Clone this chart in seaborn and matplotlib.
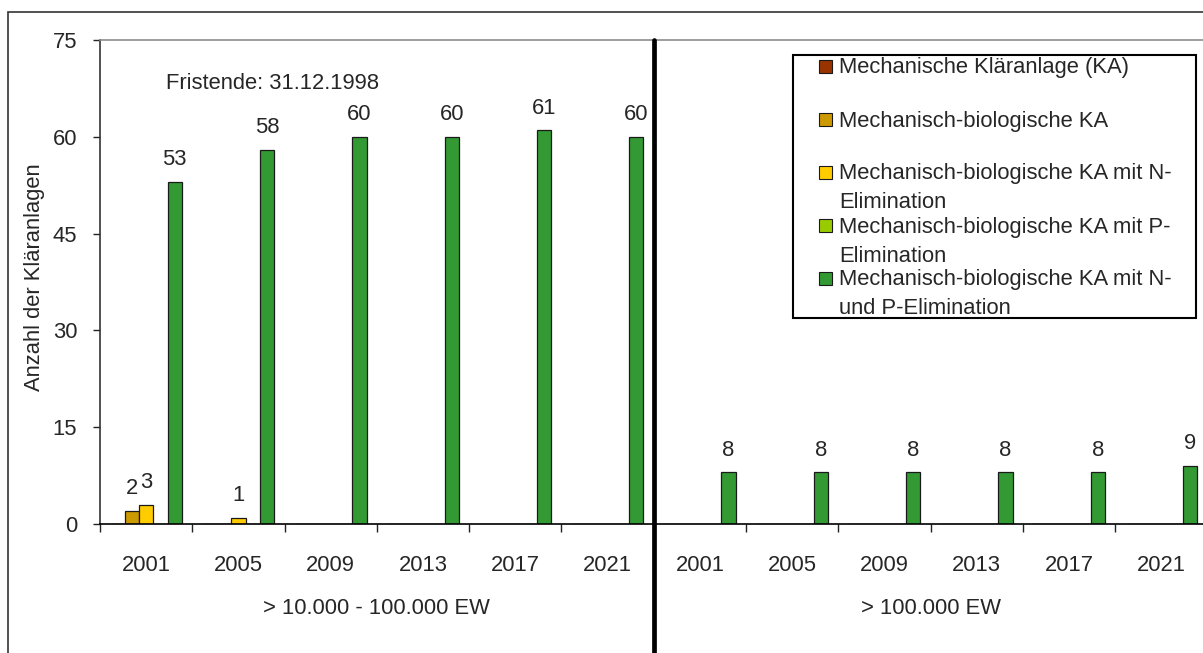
import numpy as np
import pandas as pd
import matplotlib
matplotlib.use("Agg")
import matplotlib.pyplot as plt
import matplotlib.font_manager as fm
from matplotlib.patches import Rectangle
from matplotlib.transforms import blended_transform_factory
import seaborn as sns

# ---------------- data ----------------
years = ["2001", "2005", "2009", "2013", "2017", "2021"]
groups = ["> 10.000 - 100.000 EW", "> 100.000 EW"]
series = [
    "Mechanische Kläranlage (KA)",
    "Mechanisch-biologische KA",
    "Mechanisch-biologische KA mit N-Elimination",
    "Mechanisch-biologische KA mit P-Elimination",
    "Mechanisch-biologische KA mit N- und P-Elimination",
]
legend_labels = [
    "Mechanische Kläranlage (KA)",
    "Mechanisch-biologische KA",
    "Mechanisch-biologische KA mit N-\nElimination",
    "Mechanisch-biologische KA mit P-\nElimination",
    "Mechanisch-biologische KA mit N-\nund P-Elimination",
]
colors = ["#993300", "#CC9900", "#FFCC00", "#99CC00", "#339933"]

mech_ka     = [0, 0, 0, 0, 0, 0,   0, 0, 0, 0, 0, 0]
mech_bio    = [2, 0, 0, 0, 0, 0,   0, 0, 0, 0, 0, 0]
mech_bio_n  = [3, 1, 0, 0, 0, 0,   0, 0, 0, 0, 0, 0]
mech_bio_p  = [0, 0, 0, 0, 0, 0,   0, 0, 0, 0, 0, 0]
mech_bio_np = [53, 58, 60, 60, 61, 60,   8, 8, 8, 8, 8, 9]
annotation = "Fristende: 31.12.1998"
y_title = "Anzahl der Kläranlagen"
y_ticks = [0, 15, 30, 45, 60, 75]

# ---------------- frame ----------------
cat_keys = [f"{g}|{y}" for g in groups for y in years]
tick_labels = [y for g in groups for y in years]
rows = []
for s, vals in zip(series, [mech_ka, mech_bio, mech_bio_n, mech_bio_p, mech_bio_np]):
    for k, v in zip(cat_keys, vals):
        rows.append({"cat": k, "series": s, "value": v})
df = pd.DataFrame(rows)

sns.set_style("white")
avail = {f.name for f in fm.fontManager.ttflist}
if "Liberation Sans Narrow" in avail:
    FONT, SIZE = "Liberation Sans Narrow", 19
else:
    FONT, SIZE = "Liberation Sans", 15.8
plt.rcParams["font.family"] = [FONT, "DejaVu Sans"]
plt.rcParams["font.size"] = SIZE

W, H = 1203, 653
fig = plt.figure(figsize=(W / 100, H / 100), dpi=100)
fig.patch.set_facecolor("white")
ax = fig.add_axes([100 / W, 129 / H, 1107.6 / W, 484 / H])

sns.barplot(data=df, x="cat", y="value", hue="series", order=cat_keys,
            hue_order=series, palette=colors, saturation=1, width=0.776,
            edgecolor="#1a1a1a", linewidth=0.9, errorbar=None, legend=False, ax=ax)

for cont in ax.containers:
    vals = cont.datavalues
    labels = [f"{v:g}" if v > 0 else "" for v in vals]
    ax.bar_label(cont, labels=labels, padding=8.5, fontsize=SIZE)

ax.set_xlim(-0.5, 11.5)
ax.set_ylim(0, 75)
ax.set_yticks(y_ticks)
ax.set_xticks(range(len(cat_keys)))
ax.set_xticklabels(tick_labels)
ax.set_xticks(np.arange(-0.5, len(cat_keys)), minor=True)
ax.tick_params(axis="x", which="major", length=0, pad=22, labelsize=SIZE)
ax.tick_params(axis="x", which="minor", length=6, width=1, bottom=True, color="#222222")
ax.tick_params(axis="y", length=5, width=1, left=True, pad=11.3, labelsize=SIZE, color="#222222")
ax.set_xlabel("")
ax.set_ylabel(y_title, fontsize=SIZE)
ax.yaxis.set_label_coords((45 - 100) / 1107.6, 0.51)

for side in ["left", "bottom", "top"]:
    ax.spines[side].set_visible(True)
ax.spines["left"].set_color("#333333")
ax.spines["bottom"].set_color("#000000")
ax.spines["top"].set_color("#8c8c8c")
ax.spines["right"].set_visible(False)
for side in ["left", "bottom", "top"]:
    ax.spines[side].set_linewidth(1.2)

# group labels and divider
trans = blended_transform_factory(ax.transData, ax.transAxes)
for i, g in enumerate(groups):
    ax.text(2.5 + 6 * i, -(609 - 524) / 484, g, transform=trans,
            ha="center", va="center", fontsize=SIZE)
ax.axvline(5.5, ymin=-0.27, ymax=1, color="black", lw=3.4, clip_on=False, zorder=5)

ax.text((166 - 100) / 1107.6, (524 - 89) / 484, annotation, transform=ax.transAxes,
        ha="left", va="baseline", fontsize=SIZE)

# outer frame
fig.add_artist(Rectangle((8 / W, -0.5), 2, 1 - 12 / H + 0.5, transform=fig.transFigure,
                         fill=False, edgecolor="#333333", lw=1.2))

# legend (manual, first line aligned with marker)
fig.add_artist(Rectangle((793 / W, 1 - 318 / H), (1196 - 793) / W, (318 - 55) / H,
                         transform=fig.transFigure, facecolor="white",
                         edgecolor="black", lw=1.5, zorder=10))
for k, (lab, col) in enumerate(zip(legend_labels, colors)):
    yc = 66 + 53 * k
    fig.add_artist(Rectangle((819 / W, 1 - (yc + 6.5) / H), 13 / W, 13 / H,
                             transform=fig.transFigure, facecolor=col,
                             edgecolor="#1a1a1a", lw=0.8, zorder=11))
    for j, line in enumerate(lab.split("\n")):
        fig.text(839 / W, 1 - (yc + 2 + 29 * j) / H, line, ha="left", va="center",
                 fontsize=SIZE, zorder=12)

fig.savefig("out.png", dpi=100)
